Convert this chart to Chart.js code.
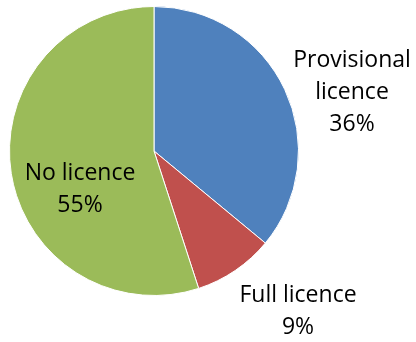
<!DOCTYPE html>
<html>
<head>
<meta charset="utf-8">
<script src="https://cdn.jsdelivr.net/npm/chart.js@4/dist/chart.umd.min.js"></script>
<style>
  html, body { margin: 0; padding: 0; background: #fff; }
  #wrap { width: 416px; height: 342px; position: relative; }
</style>
</head>
<body>
<div id="wrap"><canvas id="c" width="416" height="342"></canvas></div>
<script>
const categories = ['Provisional licence', 'Full licence', 'No licence'];
const shares = [36, 9, 55];
const sliceColors = ['#4F81BD', '#C0504D', '#9BBB59'];

// Label text lines per slice and where each block sits relative to the pie centre
const labelLines = [['Provisional', 'licence'], ['Full licence'], ['No licence']];
const labelPlacement = [
  { dx: 198, dy: -84 },
  { dx: 144, dy: 151 },
  { dx: -74, dy: 29 }
];

const sliceLabels = {
  id: 'sliceLabels',
  afterDatasetsDraw(chart) {
    const ctx = chart.ctx;
    const arcs = chart.getDatasetMeta(0).data;
    ctx.save();
    ctx.font = '23px "Open Sans", sans-serif';
    ctx.fillStyle = '#000';
    ctx.textAlign = 'center';
    ctx.textBaseline = 'alphabetic';
    const lh = 32;
    arcs.forEach((arc, i) => {
      const p = labelPlacement[i];
      const cx = arc.x + p.dx;
      let y = arc.y + p.dy;
      const lines = labelLines[i].concat([shares[i] + '%']);
      lines.forEach((t) => { ctx.fillText(t, cx, y); y += lh; });
    });
    ctx.restore();
  }
};

new Chart(document.getElementById('c'), {
  type: 'pie',
  data: {
    labels: categories,
    datasets: [{
      data: shares,
      backgroundColor: sliceColors,
      borderColor: '#ffffff',
      borderWidth: 1
    }]
  },
  options: {
    responsive: false,
    animation: false,
    layout: { padding: { left: 9, top: 6, right: 117, bottom: 46 } },
    plugins: {
      legend: { display: false },
      tooltip: { enabled: false }
    }
  },
  plugins: [sliceLabels]
});
</script>
</body>
</html>
